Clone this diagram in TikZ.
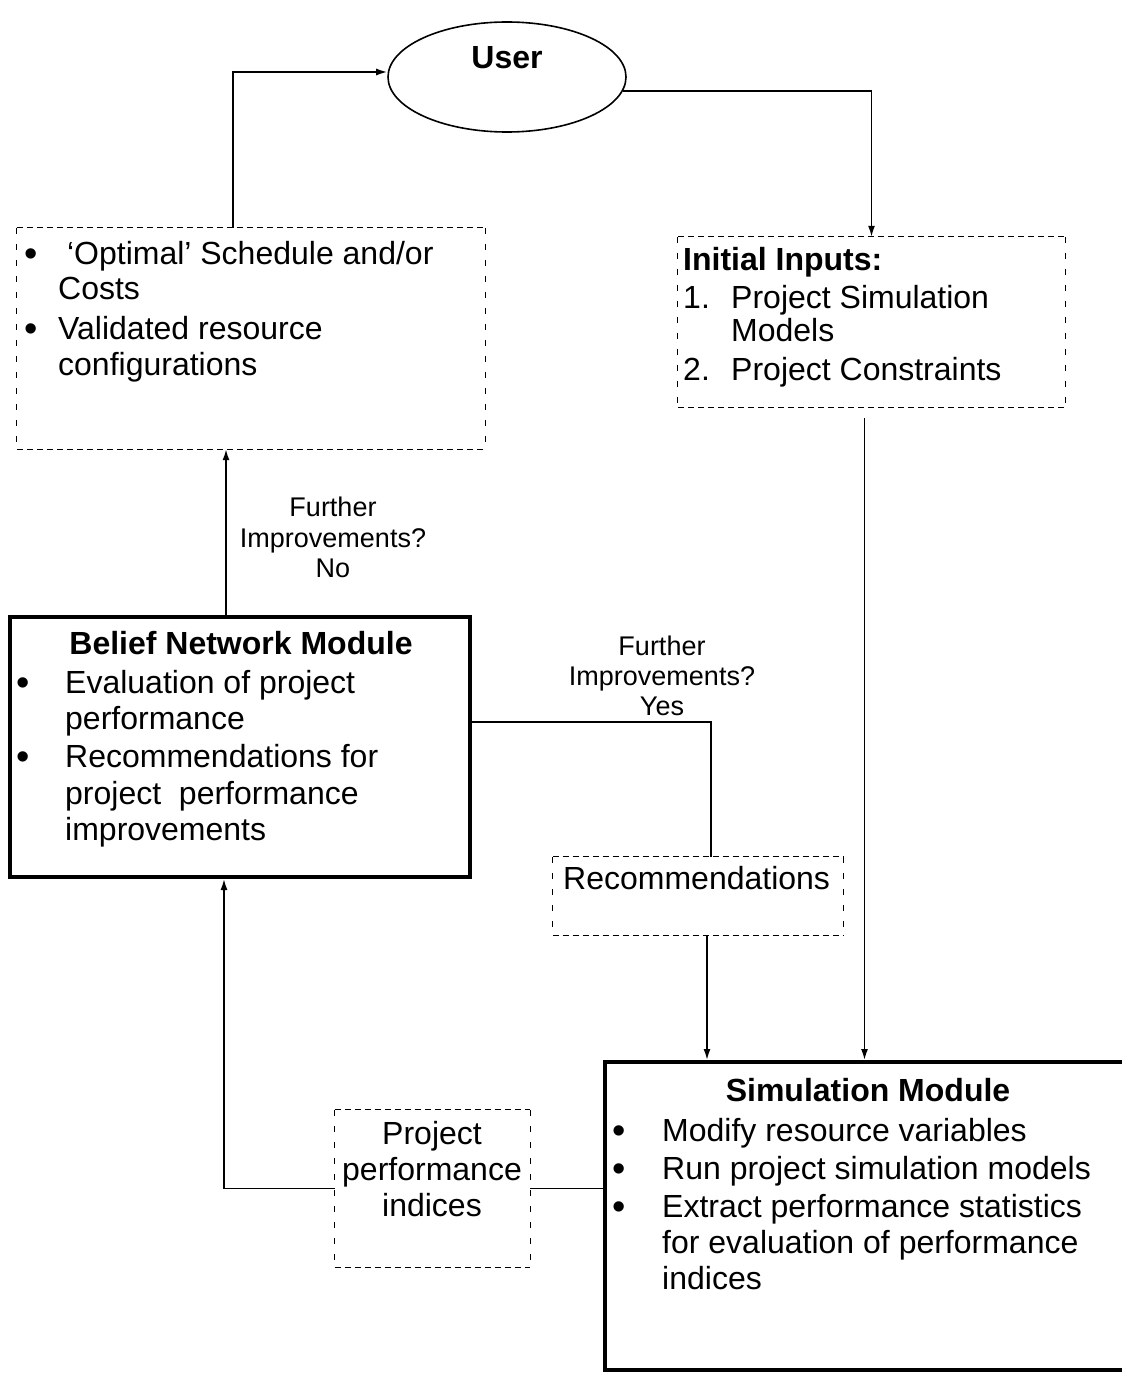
\documentclass[tikz,border=0pt]{standalone}
\usepackage{fontspec}
\setmainfont{Liberation Sans}
\usetikzlibrary{arrows.meta,calc,shapes.geometric}
\begin{document}
\begin{tikzpicture}[x=1pt,y=-1pt,
  txt/.style={anchor=base west,inner sep=0pt,font=\fontsize{32}{37}\selectfont},
  bul/.style={anchor=base west,inner sep=0pt,font=\fontsize{38}{37}\selectfont},
  ctxt/.style={anchor=base,inner sep=0pt,font=\fontsize{32}{37}\selectfont},
  btxt/.style={anchor=base,inner sep=0pt,font=\bfseries\fontsize{32}{37}\selectfont},
  lbl/.style={anchor=base,inner sep=0pt,font=\fontsize{27}{30}\selectfont},
  dbox/.style={inner sep=0pt},
  hdash/.style={line width=1.3pt,dash pattern=on 6pt off 4pt},
  vdash/.style={line width=1.1pt,dash pattern=on 6pt off 10pt},
  mbox/.style={draw,line width=4pt,inner sep=0pt},
  link/.style={line width=1.6pt},
  arr/.style={link,-{Latex[length=11pt,width=7pt]}},
]
\useasboundingbox (0,0) rectangle (1121,1375);

% ---- shapes ----
\node[draw,ellipse,line width=1.6pt,minimum width=238pt,minimum height=110pt,inner sep=0pt] (user) at (507,77) {};
\node[dbox,minimum width=468pt,minimum height=221pt] (opt) at (251,338.5) {};
\node[dbox,minimum width=387pt,minimum height=170pt] (init) at (871.5,322) {};
\node[mbox,minimum width=460pt,minimum height=260pt] (bel) at (240,747) {};
\node[dbox,minimum width=290pt,minimum height=78pt] (rec) at (698,896) {};
\node[mbox,minimum width=540pt,minimum height=308pt] (sim) at (875,1216) {};
\node[dbox,minimum width=195pt,minimum height=157pt] (ppi) at (432.5,1188.5) {};

% dashed outlines: dense dashes across, sparse dashes down the sides
\foreach \b in {opt,init,rec,ppi}{
  \draw[hdash] (\b.north west) -- (\b.north east);
  \draw[hdash] (\b.south west) -- (\b.south east);
  \draw[vdash] (\b.north west) -- (\b.south west);
  \draw[vdash] (\b.north east) -- (\b.south east);
}

% ---- texts ----
\node[btxt] (usert) at (507,69) {User};

\node[bul] (ob1) at (24,266) {•};
\node[txt] (ot1) at (58,264) {\ ‘Optimal’ Schedule and/or};
\node[txt] (ot2) at (58,299) {Costs};
\node[bul] (ob2) at (24,341) {•};
\node[txt] (ot3) at (58,339) {Validated resource};
\node[txt] (ot4) at (58,375) {configurations};

\node[txt,font=\bfseries\fontsize{32}{37}\selectfont] (it0) at (683,270) {Initial Inputs:};
\node[txt] (in1) at (683,308) {1.};
\node[txt] (it1) at (731,308) {Project Simulation};
\node[txt] (it2) at (731,341) {Models};
\node[txt] (in2) at (683,380) {2.};
\node[txt] (it3) at (731,380) {Project Constraints};

\node[btxt] (bt0) at (241,654) {Belief Network Module};
\node[bul] (bb1) at (16,695) {•};
\node[txt] (bt1) at (65,693) {Evaluation of project};
\node[txt] (bt2) at (65,729) {performance};
\node[bul] (bb2) at (16,769) {•};
\node[txt] (bt3) at (65,767) {Recommendations for};
\node[txt] (bt4) at (65,804) {project\ \ performance};
\node[txt] (bt5) at (65,840) {improvements};

\node[txt] (rect) at (563,889) {Recommendations};

\node[btxt] (st0) at (868,1101) {Simulation Module};
\node[bul] (sb1) at (612,1143) {•};
\node[txt] (st1) at (662,1141) {Modify resource variables};
\node[bul] (sb2) at (612,1181) {•};
\node[txt] (st2) at (662,1179) {Run project simulation models};
\node[bul] (sb3) at (612,1219) {•};
\node[txt] (st3) at (662,1217) {Extract performance statistics};
\node[txt] (st4) at (662,1253) {for evaluation of performance};
\node[txt] (st5) at (662,1289) {indices};

\node[ctxt] (pt1) at (432,1144) {Project};
\node[ctxt] (pt2) at (432,1180) {performance};
\node[ctxt] (pt3) at (432,1216) {indices};

\node[lbl] (n1) at (333,516) {Further};
\node[lbl] (n2) at (333,547) {Improvements?};
\node[lbl] (n3) at (333,577) {No};
\node[lbl] (y1) at (662,655) {Further};
\node[lbl] (y2) at (662,685) {Improvements?};
\node[lbl] (y3) at (662,715) {Yes};

% ---- connectors ----
\coordinate (optout) at ($(opt.north)+(-18,0)$);
\coordinate (userin) at ($(user.west)+(0,-5)$);
\draw[arr] (optout) |- (userin);

\draw[arr] (user.-7) -| (init.north);

\coordinate (initout) at ($(init.south)+(-7,11)$);
\draw[arr] (initout) -- (initout |- sim.north);

\coordinate (recout) at ($(rec.south)+(9,0)$);
\draw[arr] (recout) -- (recout |- sim.north);

\coordinate (belout) at ($(bel.east)+(0,-25)$);
\coordinate (recin) at ($(rec.north)+(13,0)$);
\draw[link] (belout) -| (recin);

\coordinate (belup) at ($(bel.north)+(-14,0)$);
\draw[arr] (belup) -- (belup |- opt.south);

\draw[link] (ppi.east -| sim.west) -- (ppi.east);

\coordinate (belin) at ($(bel.south)+(-16,0)$);
\draw[arr] (ppi.west) -| (belin);
\end{tikzpicture}
\end{document}
